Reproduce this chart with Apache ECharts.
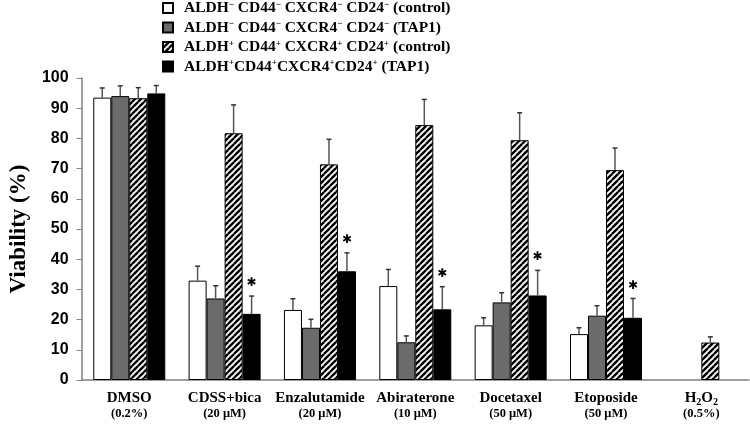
<!DOCTYPE html>
<html><head><meta charset="utf-8">
<script src="https://cdn.jsdelivr.net/npm/echarts@6/dist/echarts.min.js"></script>
<style>html,body{margin:0;padding:0;background:#fff}#c{width:750px;height:424px}</style>
</head><body><div id="c"></div>
<script>
var categories = ['DMSO|(0.2%)','CDSS+bica|(20 μM)','Enzalutamide|(20 μM)','Abiraterone|(10 μM)','Docetaxel|(50 μM)','Etoposide|(50 μM)','H2O2|(0.5%)'];
var seriesNames = ['ALDH⁻ CD44⁻ CXCR4⁻ CD24⁻ (control)','ALDH⁻ CD44⁻ CXCR4⁻ CD24⁻ (TAP1)','ALDH⁺ CD44⁺ CXCR4⁺ CD24⁺ (control)','ALDH⁺CD44⁺CXCR4⁺CD24⁺ (TAP1)'];
var negControl = [93.5, 32.9, 23.2, 31.1, 18.1, 15.2, null];
var negControlSD = [3.2, 4.8, 3.7, 5.5, 2.5, 2.1, null];
var negTAP1 = [94.0, 27.0, 17.3, 12.5, 25.7, 21.3, null];
var negTAP1SD = [3.4, 4.2, 2.8, 2.1, 3.2, 3.3, null];
var posControl = [93.3, 81.7, 71.4, 84.4, 79.4, 69.5, 12.4];
var posControlSD = [3.5, 9.4, 8.3, 8.5, 9.1, 7.3, 1.9];
var posTAP1 = [94.9, 21.9, 36.0, 23.4, 28.0, 20.6, null];
var posTAP1SD = [2.6, 5.9, 6.1, 7.5, 8.3, 6.4, null];
var significant = [false, true, true, true, true, true, false];
var yTicks = [0,10,20,30,40,50,60,70,80,90,100];

var hatch = document.createElement('canvas');
hatch.width = 6; hatch.height = 6;
(function(){
  var g = hatch.getContext('2d');
  g.fillStyle = '#fff'; g.fillRect(0,0,6,6);
  g.strokeStyle = '#000'; g.lineWidth = 2.4;
  [-6,0,6].forEach(function(dx){
    g.beginPath(); g.moveTo(dx, 6); g.lineTo(dx+6, 0); g.stroke();
    g.beginPath(); g.moveTo(dx, 12); g.lineTo(dx+6, 6); g.stroke();
    g.beginPath(); g.moveTo(dx, 0); g.lineTo(dx+6, -6); g.stroke();
  });
})();

var means = [negControl, negTAP1, posControl, posTAP1];
var sds = [negControlSD, negTAP1SD, posControlSD, posTAP1SD];
var styles = [
  {color:'#ffffff', borderColor:'#000', borderWidth:1},
  {color:'#6b6b6b', borderColor:'#000', borderWidth:1},
  {color:{image:hatch, repeat:'repeat'}, borderColor:'#000', borderWidth:1},
  {color:'#000000', borderColor:'#000', borderWidth:1}
];
var BW = 18;
var serif = 'Liberation Serif';

var series = [];
means.forEach(function(m, i){
  series.push({
    name: seriesNames[i], type:'bar', barWidth: BW, barGap:'0%',
    data: m.map(function(v){ return v == null ? '-' : v; }),
    itemStyle: styles[i], emphasis:{disabled:true}, z:2
  });
});
means.forEach(function(m, i){
  var d = [];
  m.forEach(function(v, k){ if (v != null) d.push([k, v, v + sds[i][k], (i===3 && significant[k]) ? 1 : 0]); });
  series.push({
    type:'custom', silent:true, z:5, data:d,
    renderItem: function(params, api){
      var base = api.coord([api.value(0), api.value(1)]);
      var top = api.coord([api.value(0), api.value(2)]);
      var x = base[0] + (i - 1.5) * BW;
      var ch = [
        {type:'line', shape:{x1:x, y1:base[1], x2:x, y2:top[1]}, style:{stroke:'#555', lineWidth:1.5}},
        {type:'line', shape:{x1:x-2.5, y1:top[1], x2:x+2.5, y2:top[1]}, style:{stroke:'#333', lineWidth:1.5}}
      ];
      if (api.value(3) === 1) {
        ch.push({type:'text', style:{text:'✱', x:x, y:top[1]-13, fill:'#000', font:'bold 12px DejaVu Sans', textAlign:'center', textVerticalAlign:'middle'}});
      }
      return {type:'group', children: ch};
    }
  });
});

var chart = echarts.init(document.getElementById('c'), null, {renderer:'canvas'});
chart.setOption({
  animation:false,
  backgroundColor:'#fff',
  legend:{
    orient:'vertical', left:157, top:0, padding:[0,5], itemWidth:10, itemHeight:10, itemGap:3.5,
    icon:'rect',
    data: seriesNames, selectedMode:false,
    formatter: function(n){ return '{t|' + n.replace(/⁻/g, '}{s|−}{t|').replace(/⁺/g, '}{s|+}{t|') + '}'; },
    textStyle:{
      fontFamily:serif, fontWeight:'bold', fontSize:15.5, color:'#000', lineHeight:16, padding:[0,0,0,6],
      rich:{
        t:{fontFamily:serif, fontWeight:'bold', fontSize:15.5, color:'#000', lineHeight:16},
        s:{fontFamily:serif, fontWeight:'bold', fontSize:9, color:'#000', lineHeight:16, padding:[0,0,7,0]}
      }
    }
  },
  grid:{left:70, right:1, top:78, bottom:44},
  xAxis:{
    type:'category', data:categories,
    axisLine:{lineStyle:{color:'#808080', width:1.5}},
    axisTick:{inside:true, length:4, lineStyle:{color:'#808080'}},
    axisLabel:{
      margin:10, interval:0,
      formatter:function(v){
        var p = v.split('|');
        var first = p[0] === 'H2O2' ? '{a|H}{sub|2}{a|O}{sub|2}' : '{a|' + p[0] + '}';
        return first + '\n{b|' + p[1] + '}';
      },
      rich:{
        a:{fontFamily:serif, fontWeight:'bold', fontSize:15, color:'#000', lineHeight:17},
        sub:{fontFamily:serif, fontWeight:'bold', fontSize:10, color:'#000', lineHeight:17, padding:[7,0,0,0]},
        b:{fontFamily:serif, fontWeight:'bold', fontSize:12.5, color:'#000', lineHeight:14}
      }
    }
  },
  yAxis:{
    type:'value', min:yTicks[0], max:yTicks[yTicks.length-1], interval:10,
    name:'Viability (%)', nameLocation:'middle', nameGap:48, nameRotate:90,
    nameTextStyle:{fontFamily:serif, fontWeight:'bold', fontSize:23, color:'#000'},
    axisLine:{show:true, lineStyle:{color:'#808080', width:1.5}},
    axisTick:{show:true, length:5, lineStyle:{color:'#808080'}},
    splitLine:{show:false},
    axisLabel:{fontFamily:'Liberation Sans', fontWeight:'bold', fontSize:16, color:'#000', margin:13}
  },
  series: series
});
</script></body></html>
